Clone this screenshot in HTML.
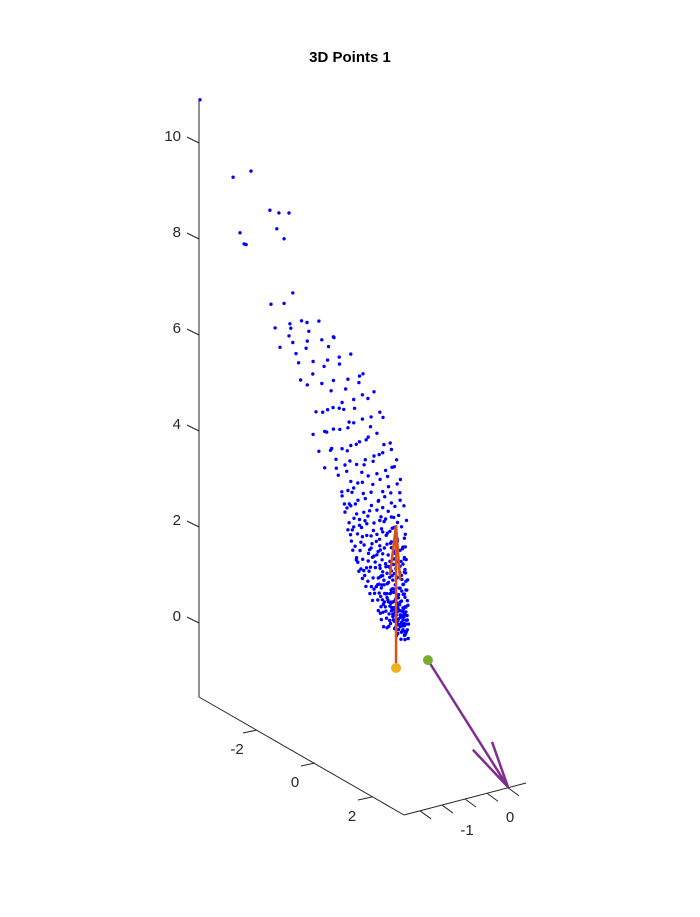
<!DOCTYPE html>
<html><head><meta charset="utf-8"><style>
body{margin:0;background:#fff;}
svg{display:block;font-family:"Liberation Sans",Arial,sans-serif;}
</style></head><body>
<svg id="chart" width="700" height="917" viewBox="0 0 700 917">
<rect width="700" height="917" fill="#fff"/>
<text x="350" y="62" text-anchor="middle" font-size="15" font-weight="bold">3D Points 1</text>
<g id="axes" stroke="#262626" stroke-width="1" fill="none">
<line x1="199" y1="100" x2="199" y2="697"/>
<line x1="199" y1="697" x2="404" y2="815"/>
<line x1="404" y1="815" x2="526" y2="783"/>
</g>
<g id="ticks"></g>
<g id="points" fill="#0000ff"></g>
<g id="arrows"></g>
</svg>
<script>
// data (y, z at x = -1 plane)
const ys = [0.95,0.85,1.0,0.75,0.9,0.65,1.05,0.8,0.7,0.95,0.6,0.85,1.0,0.55,0.75,0.9,0.65,1.05,0.5,0.8,0.7,0.95,0.45,0.6,0.85,1.0,0.4,0.7,0.55,0.9,0.98,0.88,0.72,0.62,0.78,0.5,0.93,0.68,0.82,0.58,
1.0,0.3,0.65,0.85,0.15,0.5,1.05,0.75,0.25,0.6,0.95,0.05,0.4,0.8,1.0,0.2,0.55,0.9,-0.05,0.35,0.7,1.0,0.1,0.5,0.85,-0.15,0.3,0.65,0.95,0.0,0.45,0.8,-0.2,0.2,0.6,0.9,0.35,0.7,0.45,0.15,
-1.0,-0.5,0.1,0.6,0.95,-0.8,-0.2,0.35,0.8,-0.6,0.0,0.5,0.9,-1.1,-0.35,0.2,0.7,-0.7,-0.1,0.45,0.95,-0.9,-0.45,0.1,0.6,-1.2,-0.25,0.3,0.85,-0.65,0.0,0.5,-1.0,-0.4,0.2,0.75,-0.8,0.05,
-1.8,-0.9,-0.2,0.5,-1.4,-0.5,0.2,0.8,-2.0,-1.1,-0.3,0.4,-1.6,-0.7,0.0,0.7,-2.2,-1.2,-0.4,0.3,-1.8,-0.9,-0.1,0.6,-1.5,-0.6,0.2,-2.1,-1.0,-0.3,0.5,-1.7,-0.8,0.0,-1.3,-0.5,
-2.4,-1.2,-0.2,-1.9,-0.8,0.1,-2.7,-1.5,-0.5,-2.2,-1.0,-0.1,-2.9,-1.7,-0.6,-2.4,-1.3,-3.0,-1.9,-0.9,-2.6,-1.5,-3.2,-2.0,
-3.65,-2.9,-4.34,-4.96,-3.69,-3.38,-3.03,-3.2,-3.45,-4.72,-4.58,-4.51,-6.1,-3.51,-3.03,-3.34,-1.48,-2.41,
0.83,0.97,0.72,1.08,0.61,0.88,0.47,1.02,0.33,0.76,0.57,0.21,0.93,0.42,1.09,0.14,0.67,0.29,0.84,0.03,0.51,1.04,0.19,0.73,-0.08,0.38,0.92,0.08,0.61,-0.19,0.27,0.81,1.07,-0.31,0.46,0.02,0.69,-0.42,0.17,0.97,-0.13,0.54,-0.55,0.36,0.86,-0.27,0.12,0.63,-0.66,1.03,0.23,0.41,0.12,0.96,0.55,0.26,0.78,-0.02,0.49,-0.36,
-0.71,-0.22,0.44,0.92,-0.49,0.11,0.67,-0.83,-0.06,1.06,0.31,-0.58,0.79,-0.29,0.18,-0.88,0.57,0.97,-0.44,0.04,-0.91,0.39,0.83,-0.17,-0.67,0.26,1.01,-0.35,0.64,-0.96,0.09,-0.53,0.47,0.88,-0.12,-0.79,0.32,0.71,-0.41,0.16,-1.03,0.95,-0.25,0.6,
-1.12,-0.31,0.53,0.98,-0.74,0.14,-1.21,0.71,-0.19,-0.86,0.39,1.02,-0.47,0.06,-1.33,0.62,-0.66,0.27,0.93,-1.04,-0.14,0.48,-1.41,-0.52,0.79,0.11,-0.93,0.58,
-1.56,-0.44,0.37,-1.02,0.81,-0.13,-1.73,0.52,-0.71,0.08,-1.28,0.68,-0.37,-1.87,0.24,-0.96,0.46,-1.51,-0.22,-1.14,
-2.63,-0.77,-1.58,0.21,-2.21,-1.08,-0.31,-2.79,-1.82,-0.62,-2.44,-1.29,-0.48,-2.97,-1.67,-2.35,
0.35,0.68,0.15,0.99,0.05,0.44,0.87,-0.15,0.31,0.71,1.01,-0.24,0.22,0.63,0.9,-0.38,0.13,0.48,0.98,-0.5,-0.1,0.35,0.74,-0.62,0.07,0.59,0.91,-0.45,0.24,0.77,-0.7,-0.3,0.2,0.52,0.86,-0.75,-0.1,0.4,0.99,-0.55,0.12,0.68,-0.85,-0.02,0.5,-0.6,0.36,0.98,-0.95,0.25];
const zs = [1.05,1.08,1.12,1.1,1.15,1.12,1.2,1.18,1.2,1.25,1.22,1.28,1.3,1.3,1.32,1.35,1.36,1.4,1.4,1.42,1.45,1.48,1.48,1.5,1.52,1.55,1.55,1.57,1.6,1.6,1.08,1.22,1.27,1.4,1.5,1.58,1.42,1.17,1.38,1.45,
1.65,1.68,1.7,1.72,1.75,1.78,1.8,1.82,1.85,1.88,1.9,1.92,1.95,1.97,2.0,2.02,2.05,2.08,2.1,2.12,2.15,2.18,2.2,2.22,2.25,2.28,2.3,2.32,2.35,2.38,2.4,2.42,2.45,2.47,2.5,2.5,1.62,1.63,2.27,2.0,
2.55,2.58,2.6,2.62,2.65,2.68,2.7,2.72,2.75,2.78,2.8,2.82,2.85,2.88,2.9,2.92,2.95,2.98,3.0,3.02,3.05,3.08,3.1,3.12,3.15,3.18,3.2,3.22,3.25,3.28,3.3,3.33,3.36,3.4,3.42,3.45,3.48,3.5,
3.55,3.58,3.6,3.62,3.68,3.7,3.75,3.78,3.82,3.85,3.9,3.92,3.98,4.0,4.05,4.08,4.1,4.15,4.2,4.22,4.3,4.32,4.38,4.4,4.45,4.5,4.55,4.6,4.65,4.7,4.72,4.78,4.82,4.88,4.95,5.0,
5.05,5.1,5.15,5.25,5.3,5.35,5.4,5.45,5.5,5.6,5.65,5.7,5.75,5.8,5.85,5.95,6.0,6.1,6.15,6.2,6.3,6.35,6.45,6.5,
6.28,6.77,8.78,8.44,8.2,8.25,8.37,7.78,7.9,7.38,7.2,7.21,9.64,5.84,5.84,5.5,6.34,6.33,
0.93,0.97,1.01,1.03,1.07,1.11,1.13,1.16,1.19,1.21,1.24,1.27,1.29,1.31,1.33,1.36,1.37,1.41,1.43,1.46,1.47,1.49,1.52,1.53,1.56,1.58,1.59,1.62,1.64,1.66,1.68,1.69,1.71,1.73,1.74,1.77,1.78,1.81,1.82,1.84,1.86,1.87,1.9,1.91,1.93,1.95,1.97,1.98,2.0,2.01,0.98,1.05,1.22,1.07,1.35,1.5,1.62,1.72,1.83,1.99,
2.03,2.05,2.07,2.09,2.12,2.14,2.16,2.19,2.21,2.23,2.24,2.27,2.29,2.31,2.34,2.36,2.38,2.41,2.43,2.46,2.48,2.51,2.53,2.55,2.58,2.61,2.63,2.66,2.68,2.71,2.73,2.76,2.78,2.81,2.84,2.86,2.89,2.91,2.94,2.97,2.99,2.62,2.4,2.2,
3.04,3.07,3.11,3.14,3.17,3.21,3.26,3.29,3.33,3.37,3.41,3.44,3.48,3.52,3.56,3.59,3.63,3.67,3.71,3.74,3.78,3.82,3.86,3.9,3.93,3.97,3.99,3.35,
4.03,4.08,4.12,4.17,4.21,4.26,4.31,4.36,4.41,4.47,4.52,4.57,4.62,4.67,4.73,4.78,4.84,4.89,4.94,4.98,
5.07,5.13,5.21,5.28,5.34,5.42,5.49,5.56,5.63,5.71,5.79,5.86,5.94,6.02,6.09,6.17,
1.0,0.95,1.1,1.14,1.25,1.18,1.26,1.39,1.33,1.3,1.38,1.5,1.44,1.46,1.52,1.6,1.57,1.55,1.65,1.72,1.64,1.7,1.75,1.83,1.8,1.81,1.88,1.9,1.94,1.96,2.08,2.15,2.1,2.13,2.17,2.3,2.32,2.28,2.35,2.45,2.52,2.47,2.6,2.65,2.7,2.9,2.95,2.88,3.1,3.15];
const xPlane = -1;
const zTicks = [0,2,4,6,8,10];
const yTickLabels = ["-2","0","2"];
const xTickLabels = ["-1","0"];
// quiver data: [y0,z0,y1,z1]
const orangeArrow = [0.66,0.28,0.66,3.22];
const orangeHead = [[0.45,2.12],[0.80,2.14]];
const purpleArrow = [1.76,0.82,4.52,-0.84];
const purpleHead = [[3.31,-0.49],[3.97,-0.10]];

const NS="http://www.w3.org/2000/svg";
function sx(x,y,z){return 376.9+29*y+43*(x+1);}
function sy(x,y,z){return 670.5+16.75*y-12*(x+1)-48.6*z;}
function zAxisY(v){return 623-48*v;}
function mk(tag,attrs,parent){const e=document.createElementNS(NS,tag);for(const k in attrs)e.setAttribute(k,attrs[k]);parent.appendChild(e);return e;}

const tk=document.getElementById('ticks');
zTicks.forEach(v=>{
  const y=zAxisY(v);
  const l=mk('line',{x1:187,y1:y-6,x2:199,y2:y,stroke:'#262626'},tk);
  
  
  const t=mk('text',{x:181,y:y-2,'text-anchor':'end','font-size':15,fill:'#262626'},tk);
  t.textContent=String(v);
  
  
});
const yTickPos=[[257,730],[315,763],[372,797]];
yTickLabels.forEach((s,i)=>{
  const [px,py]=yTickPos[i];
  const l=mk('line',{x1:px,y1:py,x2:px-14,y2:py+3,stroke:'#262626'},tk);
  
  
  const t=mk('text',{x:px-20,y:py+24,'text-anchor':'middle','font-size':15,fill:'#262626'},tk);
  t.textContent=s;
  
  
});
[420,442,465,487,508].forEach(px=>{
  const py=815-(px-404)*0.262;
  const l=mk('line',{x1:px,y1:py,x2:px+11,y2:py+8,stroke:'#262626'},tk);
  
  
});
const xLabPos=[[467,835],[510,822]];
xTickLabels.forEach((s,i)=>{
  const t=mk('text',{x:xLabPos[i][0],y:xLabPos[i][1],'text-anchor':'middle','font-size':15,fill:'#262626'},tk);
  t.textContent=s;
  
  
});

const pg=document.getElementById('points');
for(let i=0;i<ys.length;i++){
  const c=mk('circle',{cx:sx(xPlane,ys[i],zs[i]).toFixed(1),cy:sy(xPlane,ys[i],zs[i]).toFixed(1),r:1.7},pg);
  
  
}

const ag=document.getElementById('arrows');
function arrow(a,head,color,w,name){
  const x0=sx(xPlane,a[0],a[1]),y0=sy(xPlane,a[0],a[1]),x1=sx(xPlane,a[2],a[3]),y1=sy(xPlane,a[2],a[3]);
  const l=mk('line',{x1:x0,y1:y0,x2:x1,y2:y1,stroke:color,'stroke-width':w},ag);
  
  
  head.forEach(h=>{
    const hl=mk('line',{x1:x1,y1:y1,x2:sx(xPlane,h[0],h[1]),y2:sy(xPlane,h[0],h[1]),stroke:color,'stroke-width':w},ag);
    
    
  });
  return [x0,y0];
}
const o=arrow(orangeArrow,orangeHead,'#D95319',2.5,'orange-arrow');
const p=arrow(purpleArrow,purpleHead,'#7E2F8E',2.5,'purple-arrow');
const od=mk('circle',{cx:o[0],cy:o[1],r:5,fill:'#EDB120'},ag);


const gd=mk('circle',{cx:p[0],cy:p[1],r:5,fill:'#77AC30'},ag);


</script>
</body></html>
